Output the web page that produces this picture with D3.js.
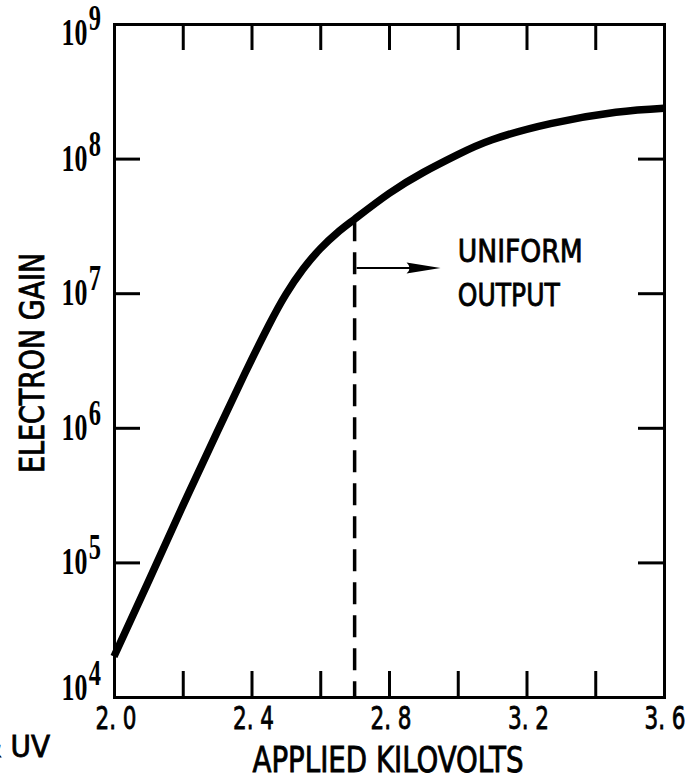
<!DOCTYPE html>
<html>
<head>
<meta charset="utf-8">
<script src="https://cdn.jsdelivr.net/npm/d3@7"></script>
<style>
  html, body { margin: 0; padding: 0; background: #fff; }
  svg { display: block; }
  .sans { font-family: "Liberation Sans Narrow", "DejaVu Sans Condensed", "Arial Narrow", sans-serif; fill: #000; stroke: #000; stroke-width: 0.8px; }
  .serif { font-family: "Liberation Serif", "DejaVu Serif", serif; fill: #000; }
</style>
</head>
<body>
<script>
// ---- data ----
const voltages = [2.00, 2.10, 2.20, 2.30, 2.38, 2.45, 2.50, 2.55, 2.60, 2.65, 2.70, 2.80, 2.90, 3.00, 3.10, 3.27, 3.46, 3.60];
const gains    = [2.0e4, 7.2e4, 2.63e5, 9.3e5, 2.51e6, 5.75e6, 9.8e6, 1.51e7, 2.14e7, 2.82e7, 3.55e7, 5.5e7, 7.9e7, 1.07e8, 1.38e8, 1.82e8, 2.21e8, 2.37e8];
const xTickMarks = [2.2, 2.4, 2.6, 2.8, 3.0, 3.2, 3.4];
const xLabelValues = [2.0, 2.4, 2.8, 3.2, 3.6];
const xTickLabels = ["2. 0", "2. 4", "2. 8", "3. 2", "3. 6"];
const yTickMarks = [1e5, 1e6, 1e7, 1e8];
const yLabelValues = [1e4, 1e5, 1e6, 1e7, 1e8, 1e9];
const yLabelExponents = ["4", "5", "6", "7", "8", "9"];
const uniformVoltage = 2.7;
const uniformGain = 3.55e7;
const arrowEndVoltage = 2.95;
const arrowGain = 1.54e7;
const annotationVoltage = 3.0;
const annotationLines = ["UNIFORM", "OUTPUT"];
const annotationGains = [1.7e7, 8.0e6];
const xTitle = "APPLIED KILOVOLTS";
const yTitle = "ELECTRON GAIN";

// ---- layout ----
const W = 696, H = 775;
const svg = d3.select("body").append("svg").attr("width", W).attr("height", H);
svg.append("rect").attr("width", W).attr("height", H).attr("fill", "#fff");

const x = d3.scaleLinear().domain([2.0, 3.6]).range([114, 664]);
const y = d3.scaleLog().domain([1e4, 1e9]).range([697, 24]);
const tick = 26;

function styleAxis(g) {
  g.selectAll("path.domain").attr("stroke", "#000").attr("stroke-width", 3).attr("stroke-linecap", "square");
  g.selectAll(".tick line").attr("stroke", "#000").attr("stroke-width", 3);
}

// tick marks (inward)
svg.append("g").attr("transform", `translate(0,${y(1e4)})`)
  .call(d3.axisBottom(x).tickValues(xTickMarks).tickSize(-tick).tickSizeOuter(0).tickFormat(""))
  .call(styleAxis);
svg.append("g").attr("transform", `translate(0,${y(1e9)})`)
  .call(d3.axisTop(x).tickValues(xTickMarks).tickSize(-tick).tickSizeOuter(0).tickFormat(""))
  .call(styleAxis);
svg.append("g").attr("transform", `translate(${x(2.0)},0)`)
  .call(d3.axisLeft(y).tickValues(yTickMarks).tickSize(-tick).tickSizeOuter(0).tickFormat(""))
  .call(styleAxis);
svg.append("g").attr("transform", `translate(${x(3.6)},0)`)
  .call(d3.axisRight(y).tickValues(yTickMarks).tickSize(-tick).tickSizeOuter(0).tickFormat(""))
  .call(styleAxis);

// x tick labels
svg.append("g").attr("class", "sans")
  .selectAll("text").data(xLabelValues).join("text")
  .attr("x", d => Math.min(x(d) + 2, 665))
  .attr("y", y(1e4) + 32)
  .attr("text-anchor", "middle")
  .attr("font-size", 32)
  .attr("textLength", 41)
  .attr("lengthAdjust", "spacingAndGlyphs")
  .text((d, i) => xTickLabels[i]);

// y tick labels: 10^n, one text each
const yl = svg.append("g").attr("class", "serif");
yLabelValues.forEach((v, i) => {
  let dy = 12;
  if (i === 0) dy = 3;
  if (i === yLabelValues.length - 1) dy = 21;
  const t = yl.append("text")
    .attr("transform", `translate(101,${y(v) + dy}) scale(0.7,1)`)
    .attr("text-anchor", "end")
    .attr("font-size", 37)
    .attr("font-weight", "bold");
  t.append("tspan").text("10");
  t.append("tspan").attr("dy", -15).attr("dx", 2).attr("font-size", 35).text(yLabelExponents[i]);
});

// axis titles
svg.append("text").attr("class", "sans")
  .attr("x", 388).attr("y", 772)
  .attr("text-anchor", "middle")
  .attr("font-size", 35)
  .attr("textLength", 271)
  .attr("lengthAdjust", "spacingAndGlyphs")
  .text(xTitle);

svg.append("text").attr("class", "sans")
  .attr("transform", "translate(44,363) rotate(-90)")
  .attr("text-anchor", "middle")
  .attr("font-size", 34)
  .attr("textLength", 220)
  .attr("lengthAdjust", "spacingAndGlyphs")
  .text(yTitle);

// cropped caption fragment at bottom-left
svg.append("text").attr("class", "sans")
  .attr("x", 50).attr("y", 757)
  .attr("text-anchor", "end")
  .attr("font-size", 31)
  .text("& UV");

// curve
const pts = voltages.map((v, i) => [v, gains[i]]);
const line = d3.line().x(d => x(d[0])).y(d => y(d[1])).curve(d3.curveNatural);
svg.append("path").datum(pts)
  .attr("d", line)
  .attr("fill", "none")
  .attr("stroke", "#000")
  .attr("stroke-width", 7.5)
  .attr("stroke-linecap", "butt");

// dashed vertical line
svg.append("line")
  .attr("x1", x(uniformVoltage)).attr("x2", x(uniformVoltage))
  .attr("y1", y(uniformGain)).attr("y2", y(1e4))
  .attr("stroke", "#000").attr("stroke-width", 3.5)
  .attr("stroke-dasharray", "22,11");

// arrow
const ax0 = x(uniformVoltage) + 2, ax1 = x(arrowEndVoltage), ay = y(arrowGain);
svg.append("line")
  .attr("x1", ax0).attr("x2", ax1 - 20)
  .attr("y1", ay).attr("y2", ay)
  .attr("stroke", "#000").attr("stroke-width", 2);
svg.append("path")
  .attr("d", `M${ax1},${ay} L${ax1 - 34},${ay - 5.5} Q${ax1 - 28},${ay} ${ax1 - 34},${ay + 5.5} Z`)
  .attr("fill", "#000");

// annotation
svg.append("g").attr("class", "sans")
  .selectAll("text").data(annotationLines).join("text")
  .attr("x", x(annotationVoltage))
  .attr("y", (d, i) => y(annotationGains[i]))
  .attr("font-size", 32)
  .attr("textLength", (d, i) => i === 0 ? 125 : 102)
  .attr("lengthAdjust", "spacingAndGlyphs")
  .text(d => d);
</script>
</body>
</html>
